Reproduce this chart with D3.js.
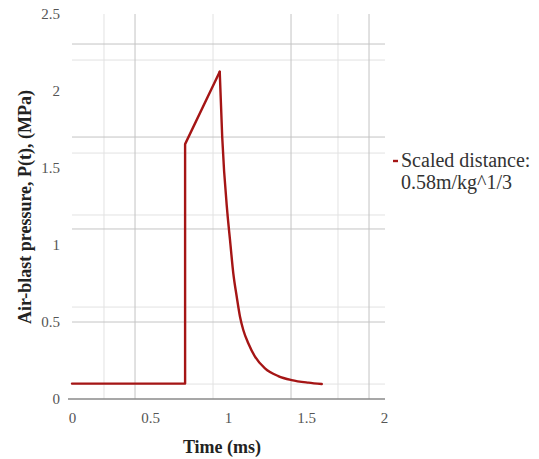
<!DOCTYPE html>
<html>
<head>
<meta charset="utf-8">
<script src="https://cdn.jsdelivr.net/npm/d3@7"></script>
<style>
  body { margin: 0; background: #fff; }
  text { font-family: "Liberation Serif", "Times New Roman", serif; }
</style>
</head>
<body>
<svg id="blast" width="539" height="459"></svg>
<script>
// pressure-time history
const riseTime = [0, 0.725, 0.725, 0.947];
const risePressure = [0.1, 0.1, 1.655, 2.125];
const decayTime = [0.947, 0.963, 0.996, 1.013, 1.034, 1.056, 1.077, 1.098, 1.130, 1.173, 1.237, 1.322, 1.408, 1.515, 1.601];
const decayPressure = [2.125, 1.70, 1.208, 1.032, 0.816, 0.664, 0.534, 0.448, 0.362, 0.275, 0.199, 0.149, 0.123, 0.106, 0.097];

const xTicks = [0, 0.5, 1, 1.5, 2];
const yTicks = [0, 0.5, 1, 1.5, 2, 2.5];
// the grid in the figure does not sit on the ticks
const gridXMajor = [0.404, 1.404, 1.904];
const gridXMinor = [0.205, 0.904, 1.705];
const gridYMajor = [0.5, 1.104, 1.701, 2.305];
const gridYMinor = [0.097, 0.597, 1.195, 1.597, 2.201];

const legendLines = ["Scaled distance:", "0.58m/kg^1/3"];

let svg = d3.select("#blast");
let x = d3.scaleLinear().domain([0, 2]).range([72, 384]);
let y = d3.scaleLinear().domain([0, 2.5]).range([399, 14]);

// grid
svg.selectAll("line.gxm").data(gridXMinor).join("line")
   .attr("x1", d => x(d)).attr("x2", d => x(d))
   .attr("y1", y(2.5)).attr("y2", y(0))
   .attr("stroke", "#e2e2e2").attr("stroke-width", 1);
svg.selectAll("line.gym").data(gridYMinor).join("line")
   .attr("x1", x(0)).attr("x2", 385)
   .attr("y1", d => y(d)).attr("y2", d => y(d))
   .attr("stroke", "#e2e2e2").attr("stroke-width", 1);
svg.selectAll("line.gxM").data(gridXMajor).join("line")
   .attr("x1", d => x(d)).attr("x2", d => x(d))
   .attr("y1", y(2.5)).attr("y2", y(0))
   .attr("stroke", "#c4c4c4").attr("stroke-width", 1);
svg.selectAll("line.gyM").data(gridYMajor).join("line")
   .attr("x1", x(0)).attr("x2", 385)
   .attr("y1", d => y(d)).attr("y2", d => y(d))
   .attr("stroke", "#c4c4c4").attr("stroke-width", 1);

// x axis
let xAxis = svg.append("g").attr("transform", `translate(0,${y(0)})`)
   .call(d3.axisBottom(x).tickValues(xTicks).tickSize(0).tickPadding(13).tickFormat(d3.format("")));
xAxis.select(".domain").attr("stroke", "#8a8a8a").attr("stroke-width", 1.5).attr("d", "M68,0H385");
xAxis.selectAll("text").attr("font-size", 15).attr("fill", "#555")
   .attr("font-family", "Liberation Serif, serif");

// y axis
let yAxis = svg.append("g").attr("transform", `translate(${x(0)},0)`)
   .call(d3.axisLeft(y).tickValues(yTicks).tickSize(0).tickPadding(12).tickFormat(d3.format("")));
yAxis.select(".domain").remove();
yAxis.selectAll("text").attr("font-size", 15).attr("fill", "#555")
   .attr("font-family", "Liberation Serif, serif");

// curve
const rise = riseTime.map((t, i) => [t, risePressure[i]]);
const decay = decayTime.map((t, i) => [t, decayPressure[i]]);
let lineLin = d3.line().x(d => x(d[0])).y(d => y(d[1]));
let lineSmooth = d3.line().x(d => x(d[0])).y(d => y(d[1])).curve(d3.curveMonotoneX);
[[rise, lineLin], [decay, lineSmooth]].forEach(([pts, gen]) => {
  svg.append("path").attr("d", gen(pts))
     .attr("fill", "none").attr("stroke", "#a51515").attr("stroke-width", 2.4)
     .attr("stroke-linejoin", "round").attr("stroke-linecap", "round");
});

// titles
svg.append("text").attr("x", 222).attr("y", 453)
   .attr("text-anchor", "middle").attr("font-size", 18).attr("font-weight", "bold")
   .attr("fill", "#222").text("Time (ms)");
svg.append("text").attr("transform", "translate(31,207) rotate(-90)")
   .attr("text-anchor", "middle").attr("font-size", 18).attr("font-weight", "bold")
   .attr("fill", "#222").text("Air-blast pressure, P(t), (MPa)");

// legend
svg.append("line").attr("x1", 393).attr("x2", 398).attr("y1", 161).attr("y2", 161)
   .attr("stroke", "#a51515").attr("stroke-width", 2.4);
svg.selectAll("text.leg").data(legendLines).join("text")
   .attr("x", 401).attr("y", (d, i) => 167 + i * 22)
   .attr("font-size", 20).attr("fill", "#333").text(d => d);
</script>
</body>
</html>
